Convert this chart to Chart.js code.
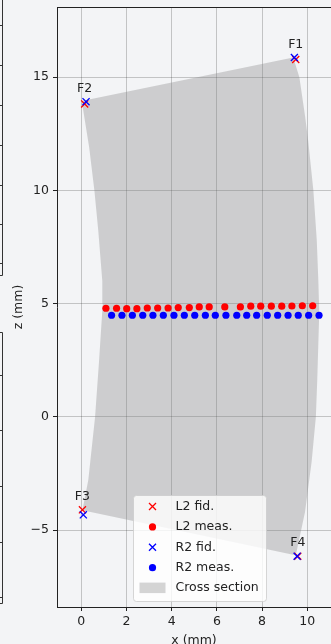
<!DOCTYPE html>
<html>
<head>
<meta charset="utf-8">
<script src="https://cdn.jsdelivr.net/npm/chart.js@4.4.1/dist/chart.umd.min.js"></script>
<style>
  html, body { margin: 0; padding: 0; background: #f3f4f6; overflow: hidden; }
  #wrap { width: 331px; height: 644px; }
</style>
</head>
<body>
<div id="wrap"><canvas id="chartSeccion" width="331" height="644"></canvas></div>
<script>
// ticks
const xTicks = [0, 2, 4, 6, 8, 10];
const zTicks = [-5, 0, 5, 10, 15];

// fiduciales (F1..F4)
const fidLabels = ['F1', 'F2', 'F3', 'F4'];
const l2FidX = [9.49, 0.15, 0.05, 9.58];
const l2FidZ = [15.78, 13.82, -4.10, -6.15];
const r2FidX = [9.43, 0.21, 0.09, 9.55];
const r2FidZ = [15.87, 13.92, -4.32, -6.15];

// puntos medidos
const l2MeasX = [1.09, 1.56, 2.01, 2.46, 2.92, 3.38, 3.84, 4.29, 4.78, 5.22, 5.66, 6.35, 7.04, 7.50, 7.94, 8.41, 8.87, 9.32, 9.78, 10.24];
const l2MeasZ = [4.80, 4.80, 4.78, 4.78, 4.81, 4.81, 4.81, 4.83, 4.83, 4.86, 4.86, 4.86, 4.86, 4.89, 4.89, 4.89, 4.89, 4.90, 4.91, 4.91];
const r2MeasX = [1.34, 1.80, 2.26, 2.72, 3.17, 3.63, 4.10, 4.56, 5.02, 5.49, 5.93, 6.40, 6.88, 7.32, 7.76, 8.23, 8.69, 9.15, 9.60, 10.06, 10.52];
const r2MeasZ = [4.49, 4.49, 4.49, 4.49, 4.49, 4.49, 4.49, 4.49, 4.49, 4.49, 4.49, 4.49, 4.49, 4.49, 4.49, 4.49, 4.49, 4.49, 4.49, 4.49, 4.49];

// contorno de la seccion
const seccionX = [0.02, 9.38, 9.65, 9.90, 10.04, 10.27, 10.42, 10.49, 10.53, 10.44, 10.38, 10.19, 9.90, 9.53, 9.48, 0.05, 0.31, 0.61, 0.78, 0.95, 0.93, 0.75, 0.58, 0.35, 0.02];
const seccionZ = [13.95, 15.87, 15.00, 13.30, 12.20, 10.00, 7.80, 6.00, 4.60, 1.60, 0.00, -2.00, -4.20, -5.93, -6.10, -4.12, -2.78, 0.00, 2.38, 5.00, 6.00, 8.24, 10.00, 11.90, 13.95];

const toPts = (xs, zs) => xs.map((x, i) => ({ x: x, y: zs[i] }));
const fuente = 'DejaVu Sans';
const tamFuente = 12.5;

// marcos del subplot vecino (recortado a la izquierda)
const vecinoPlugin = {
    id: 'vecino',
    afterDraw(chart) {
        const ctx = chart.ctx;
        ctx.save();
        ctx.strokeStyle = '#333';
        ctx.lineWidth = 1;
        ctx.beginPath();
        ctx.moveTo(2.5, 0); ctx.lineTo(2.5, 275.5); ctx.lineTo(0, 275.5);
        ctx.moveTo(0, 332.5); ctx.lineTo(2.5, 332.5); ctx.lineTo(2.5, 603.5); ctx.lineTo(0, 603.5);
        [25, 65, 105, 145, 185, 224, 263, 375, 430, 486, 542, 597].forEach(y => {
            ctx.moveTo(0, y + 0.5); ctx.lineTo(2, y + 0.5);
        });
        ctx.stroke();
        ctx.restore();
    }
};

// spine superior, etiquetas F1..F4 y leyenda
const extrasPlugin = {
    id: 'extras',
    afterDatasetsDraw(chart) {
        const ctx = chart.ctx;
        const area = chart.chartArea;
        const sx = chart.scales.x, sy = chart.scales.y;
        ctx.save();

        ctx.strokeStyle = '#222';
        ctx.lineWidth = 1;
        ctx.beginPath();
        ctx.moveTo(area.left, Math.round(area.top) + 0.5);
        ctx.lineTo(area.right, Math.round(area.top) + 0.5);
        ctx.stroke();

        ctx.fillStyle = '#222';
        ctx.font = tamFuente + 'px "' + fuente + '"';
        ctx.textAlign = 'center';
        ctx.textBaseline = 'alphabetic';
        fidLabels.forEach((t, i) => {
            const px = sx.getPixelForValue(l2FidX[i]);
            const py = sy.getPixelForValue(Math.max(l2FidZ[i], r2FidZ[i]));
            ctx.fillText(t, px, py - 10);
        });

        // leyenda
        const lx = area.left + 76.5, ly = area.bottom - 111.5, lw = 133, lh = 106;
        ctx.fillStyle = 'rgba(255,255,255,0.8)';
        ctx.strokeStyle = 'rgba(204,204,204,0.8)';
        ctx.beginPath();
        ctx.roundRect(lx, ly, lw, lh, 3);
        ctx.fill();
        ctx.stroke();

        const filas = [0, 1, 2, 3, 4];
        filas.forEach(k => {
            const ds = chart.data.datasets[k];
            const cy = ly + 11 + k * 20.4;
            const mx = lx + 19;
            if (ds.pointStyle === 'crossRot') {
                ctx.strokeStyle = ds.borderColor;
                ctx.lineWidth = 1.3;
                ctx.beginPath();
                ctx.moveTo(mx - 3.5, cy - 3.5); ctx.lineTo(mx + 3.5, cy + 3.5);
                ctx.moveTo(mx + 3.5, cy - 3.5); ctx.lineTo(mx - 3.5, cy + 3.5);
                ctx.stroke();
            } else if (ds.pointStyle === 'circle') {
                ctx.fillStyle = ds.backgroundColor;
                ctx.beginPath();
                ctx.arc(mx, cy, 3.6, 0, Math.PI * 2);
                ctx.fill();
            } else {
                ctx.fillStyle = ds.backgroundColor;
                ctx.fillRect(lx + 6, cy - 5.5, 26, 10.5);
            }
            ctx.fillStyle = '#222';
            ctx.textAlign = 'left';
            ctx.textBaseline = 'middle';
            ctx.fillText(ds.label, lx + 42, cy);
        });
        ctx.restore();
    }
};

const formatoMenos = v => (v < 0 ? '\u2212' + Math.abs(v) : String(v));
const sinPadding = s => { s.paddingTop = 0; s.paddingBottom = 0; s.paddingLeft = 0; s.paddingRight = 0; };

const ctxSeccion = document.getElementById('chartSeccion').getContext('2d');
const chartSeccion = new Chart(ctxSeccion, {
    type: 'scatter',
    data: {
        datasets: [
            {
                label: 'L2 fid.',
                data: toPts(l2FidX, l2FidZ),
                pointStyle: 'crossRot',
                pointRadius: 5,
                borderColor: '#ff0000',
                backgroundColor: '#ff0000',
                pointBorderWidth: 1.3,
                order: 2
            },
            {
                label: 'L2 meas.',
                data: toPts(l2MeasX, l2MeasZ),
                pointStyle: 'circle',
                pointRadius: 3.6,
                borderWidth: 0,
                backgroundColor: '#ff0000',
                borderColor: '#ff0000',
                order: 4
            },
            {
                label: 'R2 fid.',
                data: toPts(r2FidX, r2FidZ),
                pointStyle: 'crossRot',
                pointRadius: 5,
                borderColor: '#0000ff',
                backgroundColor: '#0000ff',
                pointBorderWidth: 1.3,
                order: 1
            },
            {
                label: 'R2 meas.',
                data: toPts(r2MeasX, r2MeasZ),
                pointStyle: 'circle',
                pointRadius: 3.6,
                borderWidth: 0,
                backgroundColor: '#0000ff',
                borderColor: '#0000ff',
                order: 3
            },
            {
                label: 'Cross section',
                data: toPts(seccionX, seccionZ),
                pointStyle: 'rect',
                showLine: true,
                fill: 'shape',
                pointRadius: 0,
                borderWidth: 0,
                borderColor: 'rgba(0,0,0,0)',
                backgroundColor: 'rgba(128,128,128,0.33)',
                tension: 0,
                order: 10
            }
        ]
    },
    options: {
        responsive: false,
        animation: false,
        devicePixelRatio: 1,
        layout: { padding: { top: 7, right: 0, bottom: 0, left: 0 }, autoPadding: false },
        plugins: {
            legend: { display: false },
            tooltip: { enabled: false }
        },
        scales: {
            x: {
                type: 'linear',
                min: -1.075,
                max: 11.05,
                afterBuildTicks: s => { s.ticks = xTicks.map(v => ({ value: v })); },
                afterFit: s => { s.height = 37; sinPadding(s); },
                ticks: {
                    color: '#222',
                    font: { family: fuente, size: tamFuente },
                    padding: 3,
                    maxRotation: 0,
                    callback: v => formatoMenos(v)
                },
                grid: { color: 'rgba(0,0,0,0.2)', tickColor: '#222', tickLength: 4 },
                border: { color: '#222', width: 1 },
                title: {
                    display: true,
                    text: 'x (mm)',
                    color: '#222',
                    font: { family: fuente, size: tamFuente, lineHeight: 0.5 },
                    padding: { top: 0, bottom: 0 }
                }
            },
            y: {
                type: 'linear',
                min: -8.39,
                max: 18.1,
                afterBuildTicks: s => { s.ticks = zTicks.map(v => ({ value: v })); },
                afterFit: s => { s.width = 57; sinPadding(s); },
                ticks: {
                    color: '#222',
                    font: { family: fuente, size: tamFuente },
                    padding: 4,
                    callback: v => formatoMenos(v)
                },
                grid: { color: 'rgba(0,0,0,0.2)', tickColor: '#222', tickLength: 4 },
                border: { color: '#222', width: 1 },
                title: {
                    display: true,
                    text: 'z (mm)',
                    color: '#222',
                    font: { family: fuente, size: tamFuente },
                    padding: { top: 11, bottom: 0 }
                }
            }
        }
    },
    plugins: [vecinoPlugin, extrasPlugin]
});
</script>
</body>
</html>
